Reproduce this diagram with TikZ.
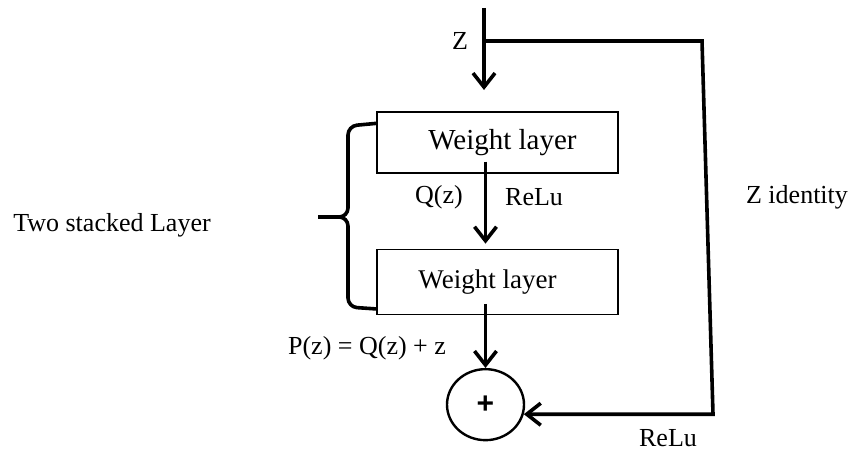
\documentclass[tikz,border=0pt]{standalone}
\usepackage{fontspec}
\setmainfont{Liberation Serif}
\newfontfamily\plusfont{Liberation Sans}
\usetikzlibrary{arrows.meta, positioning, shapes.geometric, calc}

\begin{document}
\begin{tikzpicture}[x=1pt, y=-1pt,
        node distance=75pt,
        lbl/.style={font=\fontsize{26}{30}\selectfont, inner sep=0pt},
        box/.style={draw, line width=1.3pt, minimum width=241pt, inner sep=0pt},
        sum/.style={draw, ellipse, line width=2.4pt, minimum width=77pt, minimum height=71pt, inner sep=0pt, font=\plusfont\bfseries\fontsize{30}{34}\selectfont},
        arr/.style={-{Straight Barb[length=14pt, width=22pt]}, line width=3.6pt},
        brace/.style={line width=3.6pt, rounded corners=9pt}
      ]
        \useasboundingbox (0,0) rectangle (850,452);
        \node[box, minimum height=61pt, font=\fontsize{29}{33}\selectfont] (w1) at (497.5,142.5) {\hspace*{10pt}Weight layer};
        \node[box, minimum height=65pt, font=\fontsize{27}{31}\selectfont, below=of w1] (w2) {Weight layer\hspace*{20pt}};
        \node[sum, below=53pt of w2, xshift=-12pt] (c) {\raisebox{-5pt}{+}};
        \coordinate (zin) at (484,8);
        \coordinate (ztip) at (484,90);
        \coordinate (rt) at (702,41);
        \coordinate (rb) at (713,0);
        \node[lbl] (z) at (460,41) {Z};
        \node[lbl, anchor=east] (qz) at (463,197) {Q(z)};
        \node[lbl, anchor=west] (relu) at (505,197) {ReLu};
        \node[lbl] (zid) at (797,197) {Z identity};
        \node[lbl] (stack) at (112,225) {Two stacked Layer};
        \node[lbl] (pz) at (367,348) {P(z) = Q(z) + z};
        \node[lbl] (relub) at (668,438) {ReLu};
        \draw[arr] (zin) -- (ztip);
        \draw[arr] ($(w1.south -| c.north)+(0,-12)$) -- ($(w2.north -| c.north)+(0,-5)$);
        \draw[arr] ($(w2.south -| c.north)+(0,-11)$) -- (c.north);
        \draw[arr] (zin |- rt) -- (rt) -- (c.-14 -| rb) -- (c.-14);
        \draw[brace] ($(w1.north west)+(0,12)$) -- (348,126) -- (348,217) -- (318,217);
        \draw[brace] (318,217) -- (348,217) -- (348,307) -- ($(w2.south west)+(0,-6)$);
      \end{tikzpicture}
\end{document}
